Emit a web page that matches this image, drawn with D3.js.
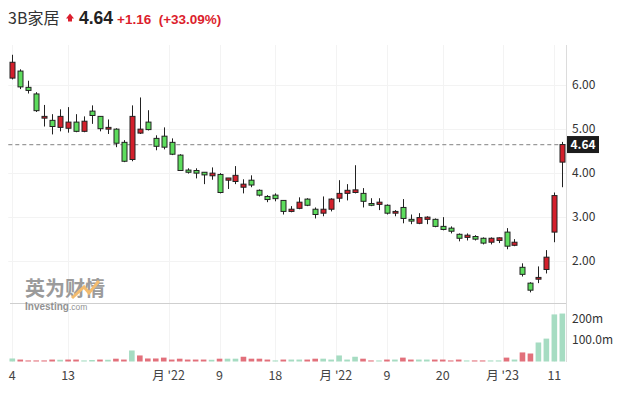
<!DOCTYPE html>
<head>
<meta charset="utf-8">
<style>
  body { margin: 0; background: #fff; }
  svg { display: block; font-family: "Noto Sans CJK SC", "Liberation Sans", Arial, sans-serif; }
</style>
</head>
<body>
<svg width="626" height="396"></svg>
<script src="https://cdn.jsdelivr.net/npm/d3@7"></script>
<script>

// OHLC, one entry per candle
var opens  = [6.15,6.31,5.94,5.79,5.24,5.19,5.03,5.01,5.15,4.94, 5.40,5.28,4.99,4.99,4.69,4.30,4.90,5.15,4.78,4.83,
              4.69,4.40,4.06,4.05,4.01,3.93,3.96,3.83,3.80,3.67, 3.83,3.60,3.46,3.49,3.37,3.12,3.19,3.40,3.17,3.08,
              3.17,3.42,3.53,3.55,3.53,3.30,3.28,3.26,3.08,3.21, 2.94,2.85,2.94,2.94,2.78,2.74,2.60,2.53,2.55,2.51,
              2.42,2.46,2.65,2.35,1.85,1.49,1.58,1.80,2.65,4.24];
var highs  = [6.68,6.35,6.09,5.83,5.54,5.33,5.44,5.49,5.33,5.28, 5.53,5.28,5.21,5.01,4.74,5.53,5.71,5.42,4.85,5.03,
              4.78,4.42,4.10,4.10,4.01,4.12,3.99,3.88,4.15,3.85, 3.94,3.62,3.49,3.53,3.37,3.24,3.44,3.42,3.21,3.46,
              3.42,3.83,3.74,4.17,3.65,3.42,3.42,3.28,3.15,3.40, 3.05,3.08,3.01,2.96,2.99,2.78,2.62,2.62,2.58,2.53,
              2.53,2.53,2.74,2.49,1.94,1.51,1.87,2.24,3.55,4.70];
var lows   = [6.12,5.90,5.80,5.38,5.05,4.87,4.94,4.91,4.92,4.92, 5.11,4.94,4.88,4.58,4.24,4.26,4.88,4.96,4.51,4.53,
              4.40,4.04,3.98,3.87,3.74,3.84,3.53,3.63,3.74,3.53, 3.67,3.46,3.33,3.35,3.05,3.10,3.17,3.24,2.96,3.01,
              3.12,3.33,3.37,3.53,3.21,3.24,3.15,3.05,3.01,2.85, 2.83,2.83,2.83,2.76,2.69,2.62,2.44,2.46,2.46,2.37,
              2.37,2.40,2.26,2.33,1.64,1.28,1.49,1.71,2.42,3.67];
var closes = [6.51,5.95,5.87,5.41,5.28,5.05,5.28,5.15,4.94,5.17, 5.30,5.00,5.03,4.67,4.26,5.28,4.99,4.98,4.60,4.58,
              4.42,4.05,4.01,3.99,3.95,3.99,3.55,3.88,3.94,3.74, 3.72,3.49,3.39,3.41,3.12,3.17,3.33,3.26,3.05,3.17,
              3.40,3.53,3.60,3.61,3.35,3.26,3.33,3.08,3.12,2.96, 2.90,2.98,2.99,2.78,2.71,2.67,2.51,2.58,2.49,2.40,
              2.51,2.52,2.33,2.42,1.69,1.33,1.62,2.08,3.48,4.64];
// volume, millions
var volumes = [14,9,5,5,5,9,8,9,9,5, 7,9,8,13,9,51,28,14,14,18, 9,13,9,9,9,8,13,13,13,22,
               13,13,9,5,9,9,9,9,13,13, 9,28,9,22,13,5,5,9,9,18, 9,9,9,9,9,5,9,5,5,5,
               5,5,18,9,42,37,88,106,218,222];

var tickPos    = [0, 7, 19.6, 26, 33, 40.6, 47, 54, 61.5, 68];
var tickLabels = ["4", "13", "月 '22", "9", "18", "月 '22", "9", "20", "月 '23", "11"];
var priceTicks = [2, 3, 4, 5, 6];
var volTicks   = [100, 200];
var lastPrice  = 4.64;

var svg = d3.select("svg");

var left = 8.3, right = 566.3;
var x = d3.scaleLinear().domain([-0.5, closes.length - 0.5]).range([left, right]);
var y = d3.scaleLinear().domain([1, 7]).range([304.7, 40.7]);
var yv = d3.scaleLinear().domain([0, 200]).range([361.5, 318.3]);

var RED = "#d3202c", GREEN = "#5ddc5d";
var VRED = "#e2707b", VGREEN = "#a6dcc2";

// faint grid
svg.append("g").selectAll("line.h").data(priceTicks).enter().append("line")
    .attr("x1", left).attr("x2", right)
    .attr("y1", function(d) { return Math.round(y(d)) + 0.5; })
    .attr("y2", function(d) { return Math.round(y(d)) + 0.5; })
    .attr("stroke", "#f3f3f3");
svg.append("g").selectAll("line.v").data(tickPos).enter().append("line")
    .attr("x1", function(d) { return Math.round(x(d)) + 0.5; })
    .attr("x2", function(d) { return Math.round(x(d)) + 0.5; })
    .attr("y1", 45).attr("y2", 362)
    .attr("stroke", "#f3f3f3");

// panel borders
svg.append("line").attr("x1", 10).attr("x2", right).attr("y1", 303.5).attr("y2", 303.5)
    .attr("stroke", "#cfcfcf");
svg.append("line").attr("x1", 566.5).attr("x2", 566.5).attr("y1", 45).attr("y2", 362)
    .attr("stroke", "#dcdcdc");

// watermark
var wm = svg.append("g").attr("opacity", 0.75);
wm.append("text").attr("x", 25).attr("y", 296)
    .attr("font-size", 20).attr("font-weight", "bold").attr("fill", "#7a7a7a")
    .text("英为财情");
wm.append("path").attr("d", "M72,298 L84,287 L89,293 L99,281")
    .attr("fill", "none").attr("stroke", "#f0a640").attr("stroke-width", 3);
wm.append("text").attr("x", 25).attr("y", 310)
    .attr("font-size", 10).attr("fill", "#6e6e6e")
    .attr("font-family", "Liberation Sans, Arial, sans-serif")
    .html('<tspan font-weight="bold">Investing</tspan><tspan font-size="8.5">.com</tspan>');

// last price dashed line
svg.append("line").attr("x1", left).attr("x2", right)
    .attr("y1", y(lastPrice)).attr("y2", y(lastPrice))
    .attr("stroke", "#9a9a9a").attr("stroke-width", 1.3).attr("stroke-dasharray", "4,3");

// volume bars
var bw = 5.6;
svg.append("g").selectAll("rect").data(volumes).enter().append("rect")
    .attr("x", function(d, i) { return x(i) - bw / 2; })
    .attr("width", bw)
    .attr("y", function(d) { return yv(d); })
    .attr("height", function(d) { return yv(0) - yv(d); })
    .attr("fill", function(d, i) { return i === 0 || closes[i] > closes[i - 1] ? VGREEN : VRED; });

// candles
var candle = svg.append("g").selectAll("g").data(closes).enter().append("g");
candle.append("line")
    .attr("x1", function(d, i) { return Math.round(x(i)) + 0.5; })
    .attr("x2", function(d, i) { return Math.round(x(i)) + 0.5; })
    .attr("y1", function(d, i) { return y(highs[i]); })
    .attr("y2", function(d, i) { return y(lows[i]); })
    .attr("stroke", "#222").attr("stroke-width", 1);
candle.append("rect")
    .attr("x", function(d, i) { return Math.round(x(i)) - 2; })
    .attr("width", 5)
    .attr("y", function(d, i) { return y(Math.max(opens[i], d)); })
    .attr("height", function(d, i) { return Math.max(1.5, Math.abs(y(opens[i]) - y(d))); })
    .attr("fill", function(d, i) { return d > opens[i] ? RED : GREEN; })
    .attr("stroke", "#222").attr("stroke-width", 1);

// right price axis
svg.append("g").selectAll("text").data(priceTicks).enter().append("text")
    .attr("x", 572).attr("y", function(d) { return y(d) + 4.5; })
    .attr("font-size", 12).attr("fill", "#333")
    .text(function(d) { return d3.format(".2f")(d); });

svg.append("g").selectAll("text").data(volTicks).enter().append("text")
    .attr("x", 572).attr("y", function(d) { return yv(d) + 4.5; })
    .attr("font-size", 12).attr("fill", "#333")
    .text(function(d) { return d === 200 ? "200m" : "100.0m"; });

// last price tag
svg.append("rect").attr("x", 567).attr("y", y(lastPrice) - 8.5).attr("width", 32).attr("height", 17)
    .attr("fill", "#1c1c1c");
svg.append("text").attr("x", 583).attr("y", y(lastPrice) + 4.5).attr("text-anchor", "middle")
    .attr("font-size", 12).attr("font-weight", "bold").attr("fill", "#fff")
    .text(d3.format(".2f")(lastPrice));

// bottom date labels
svg.append("g").selectAll("text").data(tickPos).enter().append("text")
    .attr("x", function(d) { return x(d); }).attr("y", 380)
    .attr("text-anchor", "middle").attr("font-size", 12.5).attr("fill", "#444")
    .text(function(d, i) { return tickLabels[i]; });

// header
svg.append("text").attr("x", 8).attr("y", 24).attr("font-size", 16)
    .attr("fill", "#333").text("3B家居");
svg.append("path").attr("d", "M66,18.5 L70,13.5 L74,18.5 L72,18.5 L72,21.5 L68,21.5 L68,18.5 Z")
    .attr("fill", "#dc1e2d");
svg.append("text").attr("x", 79).attr("y", 24).attr("font-size", 17.5).attr("font-weight", "bold")
    .attr("fill", "#222").attr("font-family", "Liberation Sans, Arial, sans-serif").text("4.64");
svg.append("text").attr("x", 117).attr("y", 24).attr("font-size", 13.5).attr("font-weight", "bold")
    .attr("fill", "#dc1e2d").attr("font-family", "Liberation Sans, Arial, sans-serif")
    .text("+1.16  (+33.09%)").attr("xml:space", "preserve");
</script>
</body>
